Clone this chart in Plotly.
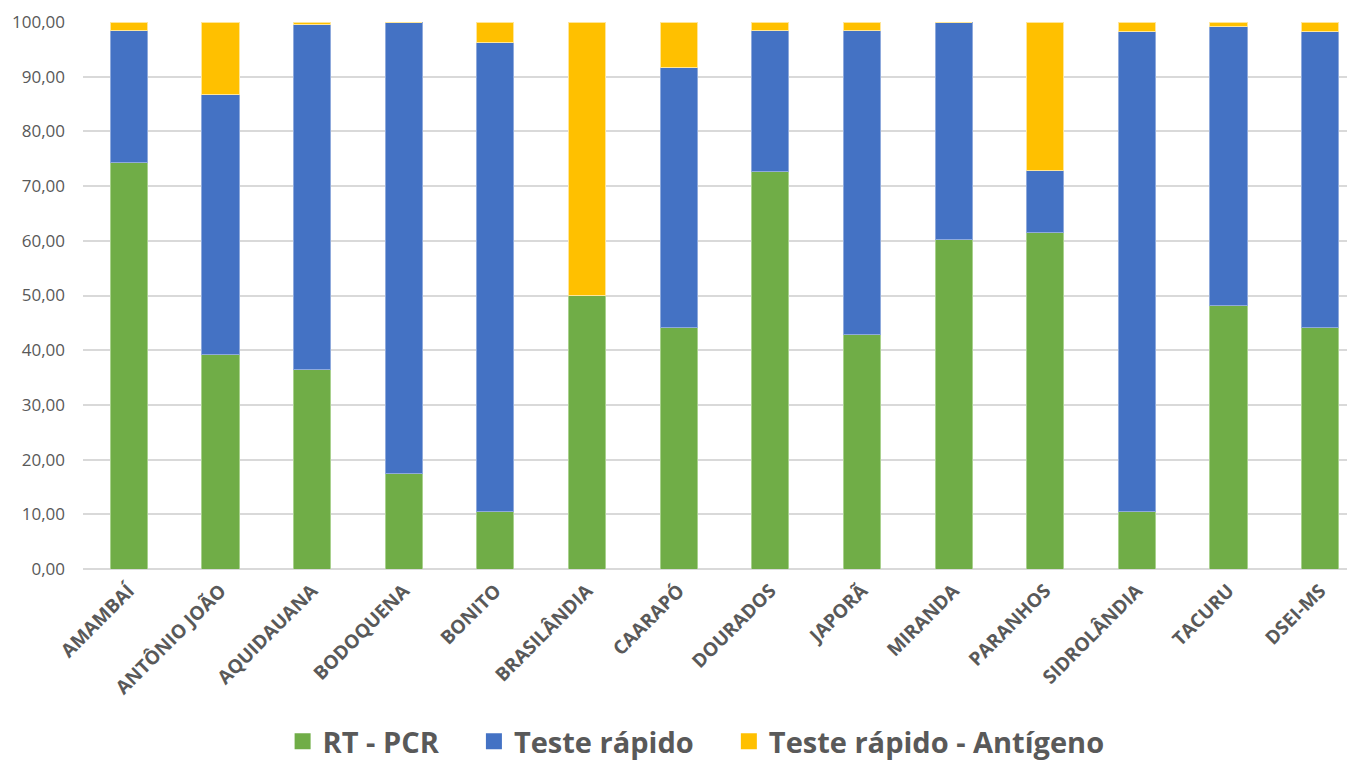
import plotly.graph_objects as go

categories = ["AMAMBAÍ", "ANTÔNIO JOÃO", "AQUIDAUANA", "BODOQUENA", "BONITO",
              "BRASILÂNDIA", "CAARAPÓ", "DOURADOS", "JAPORÃ", "MIRANDA",
              "PARANHOS", "SIDROLÂNDIA", "TACURU", "DSEI-MS"]

rt_pcr = [74.3, 39.2, 36.5, 17.5, 10.5, 50.0, 44.2, 72.6, 42.8, 60.3, 61.6, 10.5, 48.1, 44.2]
teste_rapido = [24.2, 47.6, 63.0, 82.5, 85.8, 0.0, 47.4, 25.9, 55.7, 39.7, 11.2, 87.7, 51.0, 54.0]
antigeno = [1.5, 13.2, 0.5, 0.0, 3.7, 50.0, 8.4, 1.5, 1.5, 0.0, 27.2, 1.8, 0.9, 1.8]

series_names = ["RT - PCR", "Teste rápido", "Teste rápido - Antígeno"]
legend_pad = ["\u00a0\u00a0\u00a0\u00a0", "\u00a0\u00a0\u00a0\u00a0", ""]
colors = ["#70AD47", "#4472C4", "#FFC000"]
line_colors = ["#A9D18E", "#8FAADC", "#FFE699"]

fig = go.Figure()
for name, vals, c, lc in zip(series_names, [rt_pcr, teste_rapido, antigeno], colors, line_colors):
    fig.add_trace(go.Bar(
        x=categories, y=vals, name=name, showlegend=False,
        marker=dict(color=c, line=dict(color=lc, width=1)),
    ))
# legend-only entries with large square swatches
for name, pad, c in zip(series_names, legend_pad, colors):
    fig.add_trace(go.Scatter(
        x=[None], y=[None], mode="markers", name=name + pad,
        marker=dict(symbol="square", size=20, color=c),
    ))

# note: the page body has an 8px default margin, so figure coords = screen - 8
fig.update_layout(
    barmode="stack",
    bargap=0.595,
    width=1355, height=760,
    margin=dict(l=75, r=8, t=14, b=199, autoexpand=False),
    paper_bgcolor="white", plot_bgcolor="white",
    separators=",.",
    font=dict(family="Open Sans", color="#595959"),
    showlegend=True,
    legend=dict(
        orientation="h", x=0.482, xanchor="center",
        yref="container", y=0.035, yanchor="middle",
        font=dict(size=29, family="Open Sans", color="#595959", weight="bold"),
        itemsizing="trace", traceorder="normal", itemwidth=30,
    ),
    xaxis=dict(
        range=[-0.5, 13.38],
        tickangle=-45, automargin=False,
        tickfont=dict(size=19, family="Open Sans", color="#595959", weight="bold"),
        showgrid=False, showline=False, ticks="", ticklabelstandoff=6,
    ),
    yaxis=dict(
        range=[0, 100], dtick=10, tickformat=".2f", automargin=False,
        tickfont=dict(size=17, family="Open Sans", color="#595959"),
        showgrid=True, gridcolor="#D9D9D9", gridwidth=1.5,
        zeroline=True, zerolinecolor="#D9D9D9", zerolinewidth=1.5,
        showline=False, ticks="", ticklabelstandoff=17,
    ),
)

fig.write_html("out.html")
